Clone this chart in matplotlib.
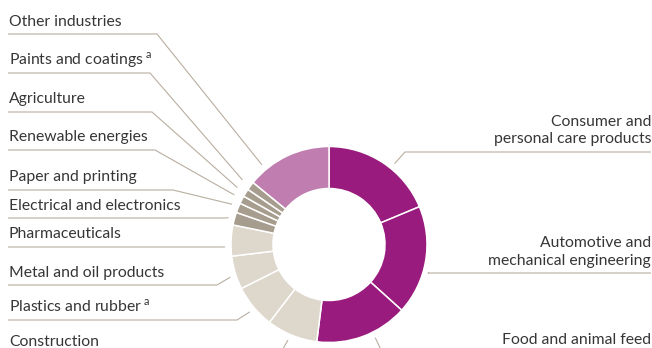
import numpy as np
import matplotlib.pyplot as plt

plt.rcParams['font.family'] = ['Lato', 'DejaVu Sans']
plt.rcParams['mathtext.fontset'] = 'custom'
plt.rcParams['mathtext.rm'] = 'Lato'

# share of sales by customer industry, clockwise from 12 o'clock
industries = [
    'Consumer and\npersonal care products',
    'Automotive and\nmechanical engineering',
    'Food and animal feed',
    'Construction',
    r'Plastics and rubber$\,^{\mathrm{a}}$',
    'Metal and oil products',
    'Pharmaceuticals',
    'Electrical and electronics',
    'Paper and printing',
    'Renewable energies',
    'Agriculture',
    r'Paints and coatings$\,^{\mathrm{a}}$',
    'Other industries',
]
shares = [18.7, 18.0, 15.3, 8.4, 7.2, 5.5, 5.1, 2.1, 1.6, 1.3, 1.3, 1.4, 14.1]

purple = '#991b7e'
pink = '#bf7db0'
taupe = '#a79d8f'
beige = '#ded7cb'
colors = [purple, purple, purple, beige, beige, beige, beige,
          taupe, taupe, taupe, taupe, taupe, pink]

# label layout in pixels from the top: side, underline y, elbow x, anchor position inside wedge
sides = ['right', 'right', 'right', 'left', 'left', 'left', 'left',
         'left', 'left', 'left', 'left', 'left', 'left']
underline_y = [152, 273, 352, 354, 320, 285, 247, 218, 190, 150, 112, 73, 34]
elbow_x = [405, 428, 382, 280, 237, 217, 220, 224, 173, 155, 152, 150, 157]
anchor_frac = [0.58, 0.6, 0.39, 0.53, 0.47, 0.42, 0.3, 0.45, 0.6, 0.6, 0.5, 0.5, 0.21]
anchor_r = [104, 104, 104, 104, 104, 104, 104, 104, 105, 107, 108, 108, 104]

W, H = 652, 348
cx, cy = 329, H - 244.5
r_out, ring = 98, 42
text_color = '#363636'
line_color = '#b9aea0'
fsize = 11.3

fig = plt.figure(figsize=(W / 100, H / 100), dpi=100)
ax = fig.add_axes([0, 0, 1, 1])

wedges, _ = ax.pie(shares, colors=colors, startangle=90, counterclock=False,
                   center=(cx, cy), radius=r_out,
                   wedgeprops=dict(width=ring, edgecolor='white', linewidth=1.1))

for i, w in enumerate(wedges):
    ang = np.deg2rad(w.theta2 - anchor_frac[i] * (w.theta2 - w.theta1))
    ax_ = cx + anchor_r[i] * np.cos(ang)
    ay_ = cy + anchor_r[i] * np.sin(ang)
    uy = H - underline_y[i]
    if sides[i] == 'left':
        xs = [8, elbow_x[i], ax_]
    else:
        xs = [651, elbow_x[i], ax_]
    ax.plot(xs, [uy, uy, ay_], color=line_color, lw=0.8, solid_capstyle='butt')

    lines = industries[i].split('\n')
    for k, line in enumerate(reversed(lines)):
        by = uy + 8.5 + k * 17.5
        if sides[i] == 'left':
            ax.text(9, by, line, ha='left', va='baseline', fontsize=fsize, color=text_color)
        else:
            ax.text(651, by, line, ha='right', va='baseline', fontsize=fsize, color=text_color)

ax.set_xlim(0, W)
ax.set_ylim(0, H)
ax.set_aspect('equal')
ax.axis('off')

fig.savefig('out.png', dpi=100)
